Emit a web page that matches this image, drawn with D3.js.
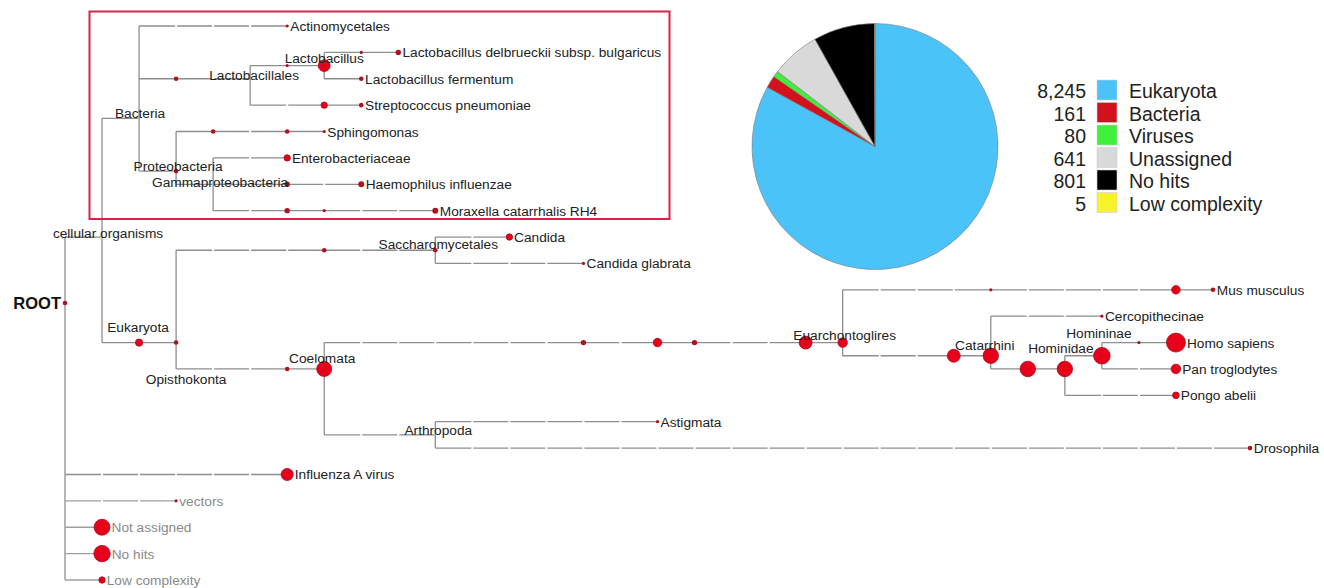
<!DOCTYPE html>
<html><head><meta charset="utf-8">
<script src="https://cdn.jsdelivr.net/npm/d3@7"></script>
<style>
body{margin:0;background:#fff}
svg{display:block}
text{font-family:"Liberation Sans",Arial,Helvetica,sans-serif}
</style>
</head><body>
<svg id="chart" width="1324" height="588"></svg>
<script>
// ---- taxonomy tree: [name, parent, taxonomic level, assigned reads] ----
const taxa = [
  ["ROOT", null, 0, 2],
  ["cellular organisms", "ROOT", 1, 0],
  ["Bacteria", "cellular organisms", 2, 0],
  ["Actinomycetales", "Bacteria", 6, 1],
  ["Firmicutes", "Bacteria", 3, 2],
  ["Lactobacillales", "Firmicutes", 5, 0],
  ["Lactobacillaceae", "Lactobacillales", 6, 1],
  ["Lactobacillus", "Lactobacillaceae", 7, 80],
  ["Lactobacillus delbrueckii", "Lactobacillus", 8, 1],
  ["Lactobacillus delbrueckii subsp. bulgaricus", "Lactobacillus delbrueckii", 9, 3],
  ["Lactobacillus fermentum", "Lactobacillus", 8, 2],
  ["Streptococcus", "Lactobacillales", 7, 5],
  ["Streptococcus pneumoniae", "Streptococcus", 8, 2],
  ["Proteobacteria", "Bacteria", 3, 2],
  ["Alphaproteobacteria", "Proteobacteria", 4, 2],
  ["Sphingomonadaceae", "Alphaproteobacteria", 6, 2],
  ["Sphingomonas", "Sphingomonadaceae", 7, 1],
  ["Gammaproteobacteria", "Proteobacteria", 4, 0],
  ["Enterobacteriaceae", "Gammaproteobacteria", 6, 5],
  ["Pasteurellaceae", "Gammaproteobacteria", 6, 3],
  ["Haemophilus influenzae", "Pasteurellaceae", 8, 4],
  ["Moraxellaceae", "Gammaproteobacteria", 6, 3],
  ["Moraxella", "Moraxellaceae", 7, 1],
  ["Moraxella catarrhalis RH4", "Moraxella", 10, 4],
  ["Eukaryota", "cellular organisms", 2, 8],
  ["Opisthokonta", "Eukaryota", 3, 2],
  ["Saccharomycotina", "Opisthokonta", 7, 2],
  ["Saccharomycetales", "Saccharomycotina", 10, 2],
  ["Candida", "Saccharomycetales", 12, 5],
  ["Candida glabrata", "Saccharomycetales", 14, 1],
  ["Bilateria", "Opisthokonta", 6, 2],
  ["Coelomata", "Bilateria", 7, 400],
  ["Euteleostomi", "Coelomata", 14, 3],
  ["Tetrapoda", "Euteleostomi", 16, 15],
  ["Amniota", "Tetrapoda", 17, 3],
  ["Eutheria", "Amniota", 20, 140],
  ["Euarchontoglires", "Eutheria", 21, 25],
  ["Muroidea", "Euarchontoglires", 25, 1],
  ["Mus", "Muroidea", 30, 15],
  ["Mus musculus", "Mus", 31, 2],
  ["Simiiformes", "Euarchontoglires", 24, 140],
  ["Catarrhini", "Simiiformes", 25, 500],
  ["Cercopithecinae", "Catarrhini", 28, 1],
  ["Hominoidea", "Catarrhini", 26, 500],
  ["Hominidae", "Hominoidea", 27, 500],
  ["Homininae", "Hominidae", 28, 900],
  ["Homo", "Homininae", 29, 1],
  ["Homo sapiens", "Homo", 30, 3000],
  ["Pan troglodytes", "Homininae", 30, 25],
  ["Pongo abelii", "Hominidae", 30, 6],
  ["Arthropoda", "Coelomata", 10, 0],
  ["Astigmata", "Arthropoda", 16, 1],
  ["Drosophila", "Arthropoda", 32, 2],
  ["Influenza A virus", "ROOT", 6, 90],
  ["vectors", "ROOT", 3, 1],
  ["Not assigned", "ROOT", 1, 641],
  ["No hits", "ROOT", 1, 801],
  ["Low complexity", "ROOT", 1, 5]
];
const unlabeledTaxa = ["Firmicutes","Lactobacillaceae","Lactobacillus delbrueckii","Streptococcus",
  "Alphaproteobacteria","Sphingomonadaceae","Pasteurellaceae","Moraxellaceae","Moraxella",
  "Saccharomycotina","Bilateria","Euteleostomi","Tetrapoda","Amniota","Eutheria","Muroidea","Mus",
  "Simiiformes","Hominoidea","Homo"];
const greyTaxa = ["vectors","Not assigned","No hits","Low complexity"];

// ---- pie chart ----
const pieCategories = ["Eukaryota","Bacteria","Viruses","Unassigned","No hits","Low complexity"];
const pieValues = [8245, 161, 80, 641, 801, 5];
const pieColors = ["#4cc3f8","#d3101d","#3ff03a","#d9d9d9","#000000","#f7f32b"];

// label placement for internal node labels (style config): [dx, dy]
const innerLabelOffset = {
  "cellular organisms":[6,1], "Bacteria":[1,0], "Lactobacillales":[4,1], "Lactobacillus":[0,-3],
  "Proteobacteria":[2,0], "Gammaproteobacteria":[7,3], "Eukaryota":[-1,-11], "Opisthokonta":[10,41],
  "Saccharomycetales":[3,-1], "Coelomata":[-2,-6], "Arthropoda":[3,0], "Euarchontoglires":[2,-3],
  "Catarrhini":[-6,-6], "Hominidae":[-4,-16], "Homininae":[-3,-18]
};

const svg = d3.select("#chart");
svg.append("rect").attr("width",1324).attr("height",588).attr("fill","#fff");

const x = d3.scaleLinear().domain([0, 32]).range([65, 1250]);
const y = d3.scaleLinear().domain([0, 21]).range([26, 580]);
const r = d3.scaleLog().domain([1, 3000]).range([1.6, 9.5]).clamp(true);

const root = d3.stratify().id(d => d[0]).parentId(d => d[1])(taxa);
root.leaves().forEach((l, i) => { l.row = i; });
root.eachAfter(n => {
  if (n.children) { const lv = n.leaves(); n.row = (lv[0].row + lv[lv.length-1].row) / 2; }
  n.px = x(n.data[2]); n.py = y(n.row);
});

const lineColor = "#8e8e8e";
const gTree = svg.append("g");

// vertical connectors
root.descendants().filter(n => n.children && n.children.length > 1).forEach(n => {
  const ys = n.children.map(c => c.py);
  gTree.append("line").attr("x1", n.px).attr("x2", n.px)
    .attr("y1", d3.min(ys)).attr("y2", d3.max(ys))
    .attr("stroke", lineColor).attr("stroke-width", 1.3);
});
// horizontal edges broken at every taxonomic level
root.descendants().filter(n => n.parent).forEach(n => {
  const l0 = n.parent.data[2], l1 = n.data[2];
  const grey = greyTaxa.includes(n.id);
  for (let l = l0; l < l1; l++) {
    gTree.append("line")
      .attr("x1", x(l) + (l === l0 ? 0 : 1)).attr("x2", x(l + 1) - 1)
      .attr("y1", n.py).attr("y2", n.py)
      .attr("stroke", grey ? "#a0a0a0" : lineColor).attr("stroke-width", 1.3);
  }
});

// red selection box
svg.append("rect").attr("x", 89.5).attr("y", 11.5).attr("width", 580).attr("height", 207.5)
  .attr("fill", "none").attr("stroke", "#dc2149").attr("stroke-width", 2);

// nodes
root.descendants().filter(n => n.data[3] > 0).forEach(n => {
  const rad = r(n.data[3]);
  gTree.append("circle").attr("cx", n.px).attr("cy", n.py).attr("r", rad)
    .attr("fill", rad < 3 ? "#b3101f" : "#e8001b")
    .attr("stroke", "#a50d1c").attr("stroke-width", rad < 3 ? 0 : 0.8);
});

// labels
root.descendants().forEach(n => {
  if (unlabeledTaxa.includes(n.id)) return;
  if (n.id === "ROOT") {
    svg.append("text").attr("x", n.px - 4).attr("y", n.py + 6).attr("text-anchor", "end")
      .attr("font-size", 16.5).attr("font-weight", "bold").attr("fill", "#111").text("ROOT");
    return;
  }
  if (n.children) {
    const off = innerLabelOffset[n.id] || [0, -6];
    svg.append("text").attr("x", n.px + off[0]).attr("y", n.py + off[1]).attr("text-anchor", "middle")
      .attr("font-size", 13.7).attr("fill", "#222").text(n.id);
  } else {
    const rad = n.data[3] > 0 ? r(n.data[3]) : 0;
    svg.append("text").attr("x", n.px + rad + 1.5).attr("y", n.py + 5)
      .attr("font-size", 13.7).attr("fill", greyTaxa.includes(n.id) ? "#8a8a8a" : "#222").text(n.id);
  }
});

// pie
const pie = d3.pie().sort(null).value(d => d)(pieValues);
const arc = d3.arc().innerRadius(0).outerRadius(123);
svg.append("g").attr("transform", "translate(875,146.5)")
  .selectAll("path").data(pie).join("path")
  .attr("d", arc).attr("fill", (d, i) => pieColors[i])
  .attr("stroke", "#7a7a7a").attr("stroke-width", 0.6);

// legend
const fmt = d3.format(",");
const lg = svg.append("g");
pieCategories.forEach((c, i) => {
  const top = 80 + i * 22.5;
  lg.append("text").attr("x", 1086).attr("y", top + 18).attr("text-anchor", "end")
    .attr("font-size", 19.5).attr("fill", "#222").text(fmt(pieValues[i]));
  lg.append("rect").attr("x", 1097).attr("y", top).attr("width", 20).attr("height", 20)
    .attr("fill", pieColors[i]).attr("stroke", "#cfcfcf").attr("stroke-width", 0.6);
  lg.append("text").attr("x", 1129).attr("y", top + 18)
    .attr("font-size", 19.5).attr("fill", "#222").text(c);
});
</script>
</body></html>
